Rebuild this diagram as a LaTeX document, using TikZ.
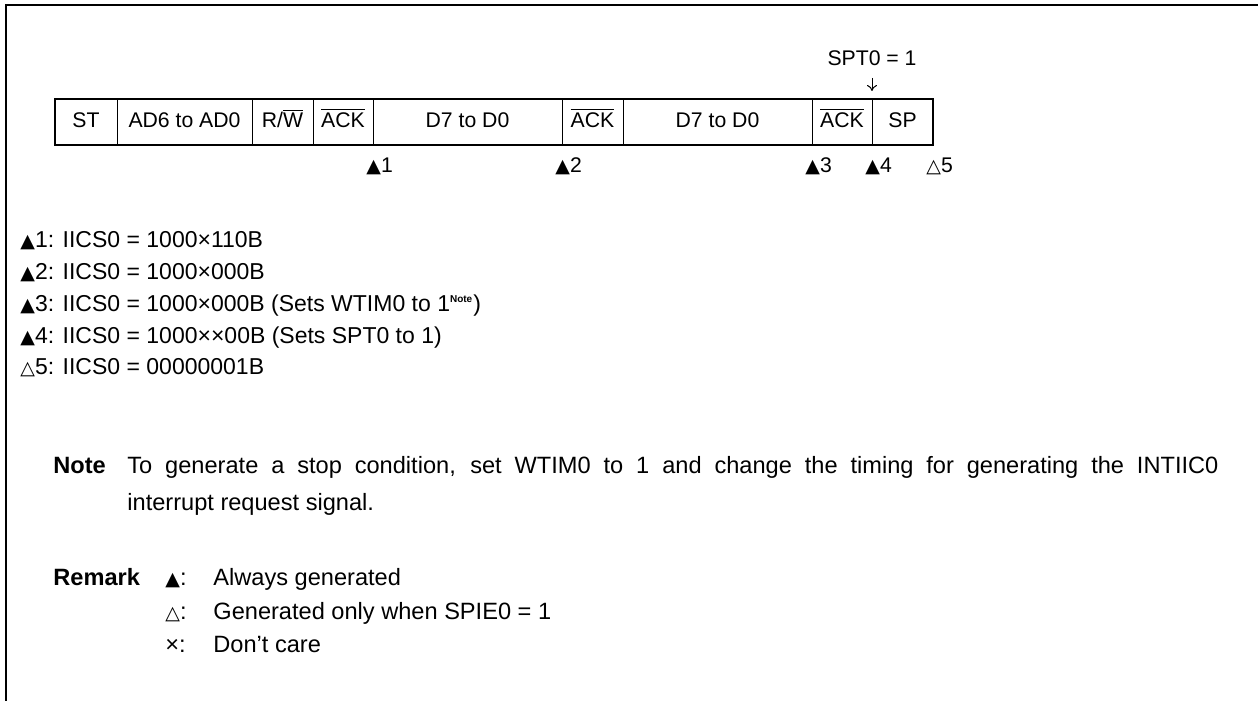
\documentclass[tikz,border=0pt]{standalone}
\usepackage{fontspec}
\setmainfont{Liberation Sans}
\newfontfamily\symfont{DejaVu Sans}
\usetikzlibrary{positioning,arrows.meta}
\newcommand{\ovl}[1]{$\overline{\mbox{#1}}$}
\newcommand{\fulltri}{{\symfont\fontsize{9.5}{9.5}\selectfont ▲}}
\newcommand{\opentri}{{\symfont\fontsize{9.5}{9.5}\selectfont △}}
\newcommand{\notemark}{\textsuperscript{\fontsize{5}{5}\selectfont\bfseries Note}}

\begin{document}
\begin{tikzpicture}[
  x=0.5pt,y=-0.5pt,
  font=\fontsize{10.6}{12}\selectfont,
  cell/.style={rectangle,draw,line width=0.5pt,inner sep=0pt,outer sep=0pt,
    minimum height=23pt,text height=7.5pt,text depth=2pt,align=center},
  tick/.style={anchor=base west,inner sep=0pt},
  row/.style={anchor=base west,inner sep=0pt,font=\fontsize{11.5}{13}\selectfont},
  txt/.style={anchor=base west,inner sep=0pt,font=\fontsize{11.8}{14}\selectfont},
  head/.style={anchor=base west,inner sep=0pt,font=\fontsize{11.8}{14}\selectfont\bfseries},
  arrow/.style={-{To[length=3pt,width=5pt]},line width=0.5pt}
]
\useasboundingbox (0,0) rectangle (1258,701);
\draw[line width=1pt] (6,701) -- (6,5) -- (1258,5);

\node[cell,minimum width=31pt,anchor=north west] (st) at (55,99) {ST};
\node[cell,minimum width=67.5pt,right=0pt of st] (adr) {AD6 to AD0};
\node[cell,minimum width=30.5pt,right=0pt of adr] (rw) {R/\ovl{W}};
\node[cell,minimum width=30pt,right=0pt of rw] (acka) {\ovl{ACK}};
\node[cell,minimum width=94.5pt,right=0pt of acka] (data) {D7 to D0};
\node[cell,minimum width=30.5pt,right=0pt of data] (ackb) {\ovl{ACK}};
\node[cell,minimum width=94.5pt,right=0pt of ackb] (datb) {D7 to D0};
\node[cell,minimum width=30pt,right=0pt of datb] (ackc) {\ovl{ACK}};
\node[cell,minimum width=30.5pt,right=0pt of ackc] (sp) {SP};
\draw[line width=1pt] (st.north west) rectangle (sp.south east);

\node[inner sep=0pt,above=16.5pt of ackc.north east] (spt) {SPT0 = 1};
\draw[arrow,shorten <=6pt,shorten >=4pt] (spt) -- (ackc.north east);

\node[tick] (t1) at ([xshift=-3.5pt,yshift=-13.5pt]acka.south east) {\fulltri 1};
\node[tick] (t2) at ([xshift=-3.5pt,yshift=-13.5pt]data.south east) {\fulltri 2};
\node[tick] (t3) at ([xshift=-3.5pt,yshift=-13.5pt]datb.south east) {\fulltri 3};
\node[tick] (t4) at ([xshift=-3.5pt,yshift=-13.5pt]ackc.south east) {\fulltri 4};
\node[tick] (t5) at ([xshift=-3.5pt,yshift=-13.5pt]sp.south east) {\opentri 5};

\node[row] (l1) at (20,247) {\fulltri 1: IICS0 = 1000×110B};
\node[row] (l2) at (20,279) {\fulltri 2: IICS0 = 1000×000B};
\node[row] (l3) at (20,311) {\fulltri 3: IICS0 = 1000×000B (Sets WTIM0 to 1\notemark)};
\node[row] (l4) at (20,343) {\fulltri 4: IICS0 = 1000××00B (Sets SPT0 to 1)};
\node[row] (l5) at (20,374) {\opentri 5: IICS0 = 00000001B};

\node[head] (notelbl) at (53,473) {Note};
\node[anchor=north west,inner sep=0pt,text width=545.5pt,align=justify,
  font=\fontsize{11.8}{18.5}\selectfont] (notetxt) at (127,456)
  {To generate a stop condition, set WTIM0 to 1 and change the timing for generating the INTIIC0\linebreak interrupt request signal.};

\node[head] (remlbl) at (53,585) {Remark};
\node[txt] (rs1) at (165,585) {\fulltri:};
\node[txt] (rt1) at (213,585) {Always generated};
\node[txt] (rs2) at (165,619) {\opentri:};
\node[txt] (rt2) at (213,619) {Generated only when SPIE0 = 1};
\node[txt] (rs3) at (165,652) {×:};
\node[txt] (rt3) at (213,652) {Don’t care};
\end{tikzpicture}
\end{document}
